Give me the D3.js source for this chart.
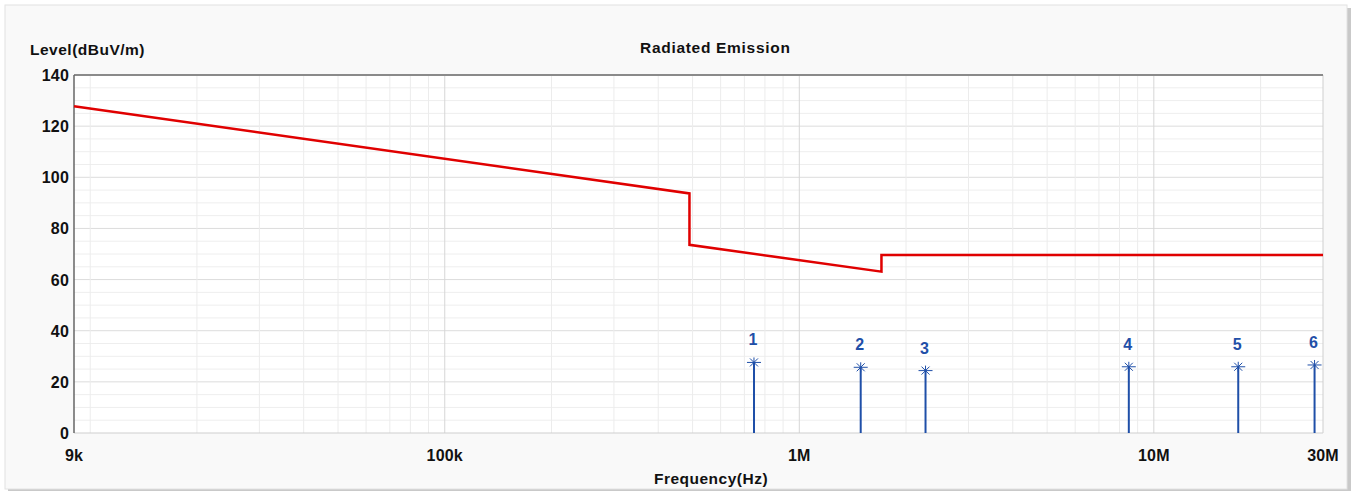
<!DOCTYPE html>
<html>
<head>
<meta charset="utf-8">
<script src="https://cdn.jsdelivr.net/npm/d3@7"></script>
<style>
  html, body { margin: 0; padding: 0; background: #fff; }
  svg { display: block; font-family: 'Liberation Sans', Arial, sans-serif; font-weight: bold; }
</style>
</head>
<body>
<svg id="chart" width="1357" height="493"></svg>
<script>
// limit line vertices (frequency in Hz, level in dBuV/m)
const limitFreq = [9e3, 490e3, 490e3, 1.705e6, 1.705e6, 30e6]
const limitLevel = [127.8, 93.7, 73.6, 63.1, 69.6, 69.6]

// measured peaks
const markerNo = [1, 2, 3, 4, 5, 6]
const markerFreq = [0.745e6, 1.49e6, 2.27e6, 8.5e6, 17.3e6, 28.4e6]
const markerLevel = [27.6, 25.7, 24.4, 25.9, 25.9, 26.6]

// axes
const yTicks = [0, 20, 40, 60, 80, 100, 120, 140]
const xTickValues = [9e3, 1e5, 1e6, 1e7, 3e7]
const xTickLabels = ['9k', '100k', '1M', '10M', '30M']

const svg = d3.select('#chart')
const margin = { top: 75, right: 34, bottom: 60, left: 74 }
const W = 1357
const H = 493
const plotW = W - margin.left - margin.right
const plotH = H - margin.top - margin.bottom

const x = d3.scaleLog().domain([9e3, 30e6]).range([margin.left, margin.left + plotW])
const y = d3.scaleLinear().domain([0, 140]).range([margin.top + plotH, margin.top])

// outer panel with a soft shadow
svg.append('rect').attr('x', 8).attr('y', 8).attr('width', 1343).attr('height', 483).attr('fill', '#c9c9c9')
svg.append('rect').attr('x', 5).attr('y', 5).attr('width', 1342).attr('height', 484)
  .attr('fill', '#f9f9f9').attr('stroke', '#e2e2e2')

// plot background
svg.append('rect').attr('x', margin.left).attr('y', margin.top).attr('width', plotW).attr('height', plotH).attr('fill', '#fff')

// grid: horizontal every 5 dB, heavier every 20
const hGrid = d3.range(5, 140, 5)
svg.append('g').selectAll('line').data(hGrid).join('line')
  .attr('x1', margin.left).attr('x2', margin.left + plotW)
  .attr('y1', d => y(d)).attr('y2', d => y(d))
  .attr('stroke', d => d % 20 === 0 ? '#dcdcdc' : '#eeeeee')
  .attr('stroke-width', 1)

// grid: vertical log lines
const vGrid = []
for (let dec = 1e4; dec <= 1e7; dec *= 10) {
  for (let k = 1; k <= 9; k++) {
    const f = dec * k
    if (f > 9e3 && f < 30e6) vGrid.push(f)
  }
}
vGrid.push(20e6)
svg.append('g').selectAll('line').data(vGrid).join('line')
  .attr('x1', d => x(d)).attr('x2', d => x(d))
  .attr('y1', margin.top).attr('y2', margin.top + plotH)
  .attr('stroke', d => [1e5, 1e6, 1e7].includes(d) ? '#d6d6d6' : '#ececec')
  .attr('stroke-width', 1)

// plot frame
svg.append('line').attr('x1', margin.left).attr('x2', margin.left + plotW).attr('y1', margin.top + plotH).attr('y2', margin.top + plotH).attr('stroke', '#cfcfcf')
svg.append('line').attr('x1', margin.left + plotW).attr('x2', margin.left + plotW).attr('y1', margin.top).attr('y2', margin.top + plotH).attr('stroke', '#cfcfcf')
svg.append('line').attr('x1', margin.left).attr('x2', margin.left + plotW).attr('y1', margin.top).attr('y2', margin.top).attr('stroke', '#8a8a8a').attr('stroke-width', 2)
svg.append('line').attr('x1', margin.left).attr('x2', margin.left).attr('y1', margin.top).attr('y2', margin.top + plotH).attr('stroke', '#666').attr('stroke-width', 1.5)

// y tick labels
svg.append('g').selectAll('text').data(yTicks).join('text')
  .attr('x', margin.left - 5)
  .attr('y', d => y(d) + 6)
  .attr('text-anchor', 'end')
  .attr('font-size', 16)
  .attr('letter-spacing', 0.2)
  .attr('fill', '#111')
  .text(d => d)

// x tick labels
svg.append('g').selectAll('text').data(xTickValues).join('text')
  .attr('x', d => x(d))
  .attr('y', 461)
  .attr('text-anchor', 'middle')
  .attr('font-size', 16)
  .attr('letter-spacing', 0.2)
  .attr('fill', '#111')
  .text((d, i) => xTickLabels[i])

// titles
svg.append('text').attr('x', 30).attr('y', 55).attr('font-size', 15.5).attr('letter-spacing', 0.5).attr('fill', '#111').text('Level(dBuV/m)')
svg.append('text').attr('x', 640).attr('y', 53).attr('font-size', 15.5).attr('letter-spacing', 0.7).attr('fill', '#111').text('Radiated Emission')
svg.append('text').attr('x', 711).attr('y', 484).attr('text-anchor', 'middle').attr('font-size', 15.5).attr('letter-spacing', 0.5).attr('fill', '#111').text('Frequency(Hz)')

// limit line
const limit = limitFreq.map((f, i) => [f, limitLevel[i]])
const line = d3.line().x(d => x(d[0])).y(d => y(d[1]))
svg.append('path').datum(limit)
  .attr('fill', 'none')
  .attr('stroke', '#e00000')
  .attr('stroke-width', 2.5)
  .attr('d', line)

// markers
const blue = '#1f4fa8'
const markers = markerNo.map((n, i) => ({ n, f: markerFreq[i], v: markerLevel[i] }))
const mg = svg.append('g').selectAll('g').data(markers).join('g')
  .attr('transform', d => `translate(${x(d.f)},${y(d.v)})`)

mg.append('line')
  .attr('x1', 0).attr('x2', 0)
  .attr('y1', 0).attr('y2', d => y(0) - y(d.v))
  .attr('stroke', blue).attr('stroke-width', 2)

mg.append('path')
  .attr('d', 'M-7,0H7M0,-5V5M-4,-4L4,4M-4,4L4,-4')
  .attr('stroke', blue).attr('stroke-width', 1).attr('fill', 'none')

mg.append('text')
  .attr('x', -1).attr('y', -17)
  .attr('text-anchor', 'middle')
  .attr('font-size', 16)
  .attr('fill', blue)
  .text(d => d.n)
</script>
</body>
</html>
